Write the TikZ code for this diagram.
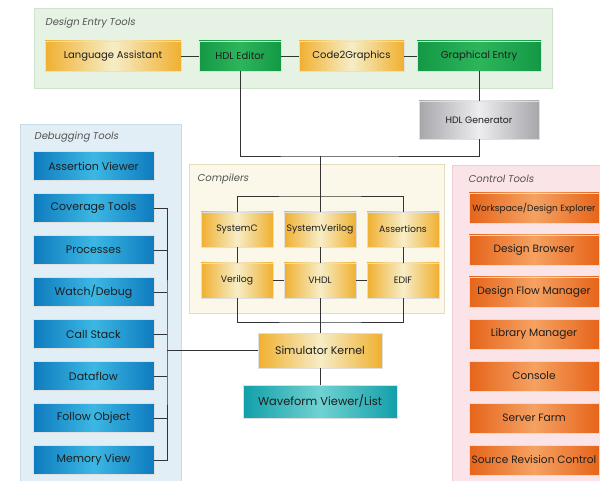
\documentclass[tikz,border=0pt]{standalone}
\usepackage{fontspec}
\setmainfont{Poppins}
\newfontfamily\titlefont[FakeSlant=0.18]{Poppins}
\definecolor{pgreen}{HTML}{E6F2E4}
\definecolor{pgreenb}{HTML}{CFE3CC}
\definecolor{pblue}{HTML}{E2EEF5}
\definecolor{pblueb}{HTML}{C8DBE8}
\definecolor{pcream}{HTML}{FBF8EA}
\definecolor{pcreamb}{HTML}{E3DCBE}
\definecolor{ppink}{HTML}{FBE4E8}
\definecolor{ppinkb}{HTML}{F0CBD2}
\definecolor{ydark}{HTML}{F0B030}
\definecolor{ylight}{HTML}{F6EDC6}
\definecolor{gdark}{HTML}{149845}
\definecolor{glight}{HTML}{2DB55C}
\definecolor{bdark}{HTML}{0E7BBE}
\definecolor{blight}{HTML}{3CB7E4}
\definecolor{odark}{HTML}{E6641A}
\definecolor{olight}{HTML}{F5A262}
\definecolor{tdark}{HTML}{119FA9}
\definecolor{tlight}{HTML}{70D2D2}
\definecolor{gydark}{HTML}{A6A6AB}
\definecolor{gylight}{HTML}{EDEDEF}
\definecolor{txt}{HTML}{1E1E1E}
\definecolor{ttl}{HTML}{555555}
\definecolor{ln}{HTML}{333333}
\tikzset{
  box/.style={minimum height=30pt, inner sep=1pt, text=txt, font=\fontsize{10}{11}\selectfont, draw=white!75!gray, line width=0.4pt},
  ybox/.style={box, left color=ydark, right color=ydark, middle color=ylight},
  gbox/.style={box, left color=gdark, right color=gdark, middle color=glight},
  bbox/.style={box, minimum width=121pt, minimum height=29pt, left color=bdark, right color=bdark, middle color=blight, font=\fontsize{11}{12}\selectfont},
  obox/.style={box, minimum width=130pt, minimum height=30pt, left color=odark, right color=odark, middle color=olight, font=\fontsize{10.6}{12}\selectfont},
  tbox/.style={box, left color=tdark, right color=tdark, middle color=tlight},
  grbox/.style={box, left color=gydark, right color=gydark, middle color=gylight},
  cbox/.style={ybox, minimum width=72pt, minimum height=35pt, font=\fontsize{9.3}{10}\selectfont},
  paneltitle/.style={anchor=west, inner sep=0pt, text=ttl, font=\titlefont\fontsize{10}{11}\selectfont},
  conn/.style={draw=ln, line width=0.9pt},
}
\begin{document}
\begin{tikzpicture}[x=1pt,y=-1pt]
\useasboundingbox (0,0) rectangle (600,481);
\fill[white] (0,0) rectangle (600,481);
% panels
\path[fill=pgreen, draw=pgreenb, line width=0.8pt] (34,8) rectangle (552,88);
\path[fill=pblue, draw=pblueb, line width=0.8pt] (20,124) rectangle (181,495);
\path[fill=pcream, draw=pcreamb, line width=0.8pt] (189,164) rectangle (444,313);
\path[fill=ppink, draw=ppinkb, line width=0.8pt] (452,165) rectangle (615,495);
\node[paneltitle] (tde) at (45,23) {Design Entry Tools};
\node[paneltitle] (tdb) at (34,137) {Debugging Tools};
\node[paneltitle] (tcp) at (197,179) {Compilers};
\node[paneltitle] (tct) at (468,179) {Control Tools};
% design entry
\node[ybox, minimum width=136pt] (la) at (113,56) {Language Assistant};
\node[gbox, minimum width=82pt] (hdl) at (240,56) {HDL Editor};
\node[ybox, minimum width=105pt] (c2g) at (351.5,56) {Code2Graphics};
\node[gbox, minimum width=124pt] (ge) at (479,56) {Graphical Entry};
\node[grbox, minimum width=120pt, minimum height=38pt, font=\fontsize{9.3}{10}\selectfont] (hgen) at (479,120) {HDL Generator};
% compilers
\node[cbox] (sysc) at (237,229.5) {SystemC};
\node[cbox] (sysv) at (320,229.5) {SystemVerilog};
\node[cbox] (asrt) at (403,229.5) {Assertions};
\node[cbox] (ver) at (237,280.5) {Verilog};
\node[cbox] (vhdl) at (320,280.5) {VHDL};
\node[cbox] (edif) at (403,280.5) {EDIF};
\node[ybox, minimum width=124pt, minimum height=35pt, font=\fontsize{11}{12}\selectfont] (sk) at (320,350.5) {Simulator Kernel};
\node[tbox, minimum width=154pt, minimum height=33pt, font=\fontsize{11.4}{12}\selectfont] (wv) at (320,401.5) {Waveform Viewer/List};
% debugging
\node[bbox] (av) at (93.5,166) {Assertion Viewer};
\node[bbox] (cov) at (93.5,208) {Coverage Tools};
\node[bbox] (proc) at (93.5,250) {Processes};
\node[bbox] (wd) at (93.5,292) {Watch/Debug};
\node[bbox] (cs) at (93.5,334) {Call Stack};
\node[bbox] (df) at (93.5,376) {Dataflow};
\node[bbox] (fo) at (93.5,418) {Follow Object};
\node[bbox] (mv) at (93.5,460) {Memory View};
% control
\node[obox, font=\fontsize{9}{10}\selectfont] (wde) at (534,208) {Workspace/Design Explorer};
\node[obox] (db) at (534,250) {Design Browser};
\node[obox] (dfm) at (534,292) {Design Flow Manager};
\node[obox] (lm) at (534,334) {Library Manager};
\node[obox] (con) at (534,376) {Console};
\node[obox] (sf) at (534,418) {Server Farm};
\node[obox] (src) at (534,460) {Source Revision Control};
% coordinates
\coordinate (bus1) at (320,156);
\coordinate (ctop) at (320,196);
\coordinate (cbot) at (320,322);
\coordinate (dbus) at (167,350.5);
% connectors design entry
\draw[conn] (la) -- (hdl);
\draw[conn] (hdl) -- (c2g);
\draw[conn] (c2g) -- (ge);
\draw[conn] (ge) -- (hgen);
\draw[conn] (hdl.south) |- (bus1) -| (hgen.south);
\draw[conn] (bus1) -- (sysv.north);
% compilers
\draw[conn] (sysc.north) |- (ctop) -| (asrt.north);
\draw[conn] (sysc) -- (ver);
\draw[conn] (sysv) -- (vhdl);
\draw[conn] (asrt) -- (edif);
\draw[conn] (ver) -- (vhdl);
\draw[conn] (vhdl) -- (edif);
\draw[conn] (ver.south) |- (cbot) -| (edif.south);
\draw[conn] (vhdl.south) -- (sk.north);
\draw[conn] (sk) -- (wv);
% debugging bus
\draw[conn] (cov.east) -| (dbus) |- (mv.east);
\draw[conn] (proc.east) -- (proc.east -| dbus);
\draw[conn] (wd.east) -- (wd.east -| dbus);
\draw[conn] (cs.east) -- (cs.east -| dbus);
\draw[conn] (df.east) -- (df.east -| dbus);
\draw[conn] (fo.east) -- (fo.east -| dbus);
\draw[conn] (dbus) -- (sk.west);
\end{tikzpicture}
\end{document}
